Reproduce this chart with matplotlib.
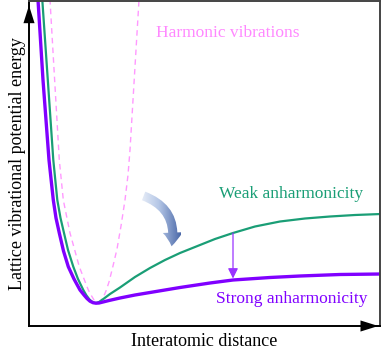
import numpy as np
import matplotlib
matplotlib.use("Agg")
import matplotlib.pyplot as plt
from matplotlib.patches import FancyArrowPatch

# Curves (arbitrary units: distance, energy)
strong_x = [8.4, 9.0, 11.5, 14.0, 17.0, 20.0, 24.3, 27.0, 30.3, 34.5, 39.3, 45.0, 51.0, 55.0, 58.0,
            61.0, 64.0, 67.0, 70.0, 74.0, 80.0, 91.0, 106.0, 121.0, 151.0, 181.0, 204.0, 241.0,
            271.0, 311.0, 352.0]
strong_y = [335, 326, 286, 246, 206, 166, 126, 108, 93, 75, 59.3, 47, 36, 31, 27.5,
            24.8, 23.3, 22.8, 23.0, 24.0, 25.5, 28, 31, 33.5, 38.5, 43, 46, 48.5,
            50, 51.5, 52]

weak_x = [12.7, 13.3, 18.8, 24.3, 28.3, 31.5, 35.0, 39.0, 44.3, 49.0, 54.3, 57.5, 60.5, 64.0,
          67.0, 70.0, 75.0, 81.0, 91.0, 106.0, 121.0, 136.0, 151.0, 171.0, 186.0, 204.0,
          226.0, 251.0, 276.0, 301.0, 326.0, 352.0]
weak_y = [335, 326, 246, 166, 126, 108, 93, 76, 59.3, 47, 36, 30.5, 26.5, 23.5,
          23.0, 24.0, 27.5, 32, 38.5, 49, 58, 66, 73, 81, 87, 93,
          99.5, 104.5, 107.5, 109.5, 111, 112]

harm_x = [20.7, 21.0, 26.8, 30.3, 34.3, 41.0, 50.3, 59.3, 62.0, 65.0, 68.0, 71.0, 74.0, 77.0,
          80.0, 84.0, 88.0, 92.0, 96.0, 99.0, 101.0, 104.0, 107.0, 110.0, 110.5]
harm_y = [335, 326, 226, 166, 126, 93, 59.3, 36, 31, 26, 24, 24.5, 28, 35,
          44, 60, 77, 100, 126, 151, 176, 226, 276, 326, 335]

purple = "#8000ff"
green = "#1a9e76"
pink = "#ff99ff"
serif = "Liberation Serif"

fig = plt.figure(figsize=(3.82, 3.53), dpi=100)
ax = fig.add_axes([29 / 382, 1 - 326 / 353, 351 / 382, 325 / 353])

ax.plot(harm_x, harm_y, color=pink, lw=1.0, ls=(0, (4, 3)))
ax.plot(weak_x, weak_y, color=green, lw=1.6)
ax.plot(strong_x, strong_y, color=purple, lw=2.4)

ax.set_xlim(0, 351)
ax.set_ylim(0, 325)
ax.set_xticks([])
ax.set_yticks([])

for side in ["left", "bottom"]:
    ax.spines[side].set_color("black")
    ax.spines[side].set_linewidth(1.4)
for side in ["top", "right"]:
    ax.spines[side].set_color("#444444")
    ax.spines[side].set_linewidth(1.4)

# axis arrows
ax.annotate("", xy=(0, 0.995), xytext=(0, 0.93), xycoords="axes fraction",
            arrowprops=dict(arrowstyle="-|>,head_length=0.8,head_width=0.25",
                            color="black", lw=0, mutation_scale=16), annotation_clip=False)
ax.annotate("", xy=(1.003, 0), xytext=(0.95, 0), xycoords="axes fraction",
            arrowprops=dict(arrowstyle="-|>,head_length=0.8,head_width=0.25",
                            color="black", lw=0, mutation_scale=16), annotation_clip=False)

# curved gradient arrow
arrow = FancyArrowPatch((112, 131), (142, 77), connectionstyle="arc3,rad=-0.45",
                        arrowstyle="simple,head_length=0.9,head_width=1.3,tail_width=0.6",
                        mutation_scale=11, lw=0, color="none")
ax.add_patch(arrow)
grad = np.linspace(0, 1, 256).reshape(1, -1)
cmap = matplotlib.colors.LinearSegmentedColormap.from_list("bl", ["#f4f7fc", "#b4c6e6", "#4a68a8"])
im = ax.imshow(grad, cmap=cmap, extent=(108, 152, 70, 140), aspect="auto", zorder=3)
im.set_clip_path(arrow)

# small vertical arrow
ax.annotate("", xy=(204, 47.5), xytext=(204, 93),
            arrowprops=dict(arrowstyle="-|>,head_length=0.6,head_width=0.3",
                            color="#9933ff", lw=0.9, mutation_scale=10, shrinkA=0, shrinkB=0))

ax.text(127, 293, "Harmonic vibrations", color="#ff88ff", fontsize=12.5, family=serif, va="center")
ax.text(190, 132, "Weak anharmonicity", color=green, fontsize=12.5, family=serif, va="center")
ax.text(187, 27, "Strong anharmonicity", color=purple, fontsize=12.5, family=serif, va="center")

ax.set_xlabel("Interatomic distance", fontsize=13, family=serif, labelpad=5)
ax.set_ylabel("Lattice vibrational potential energy", fontsize=13, family=serif, labelpad=2)

fig.savefig("out.png", dpi=100)
